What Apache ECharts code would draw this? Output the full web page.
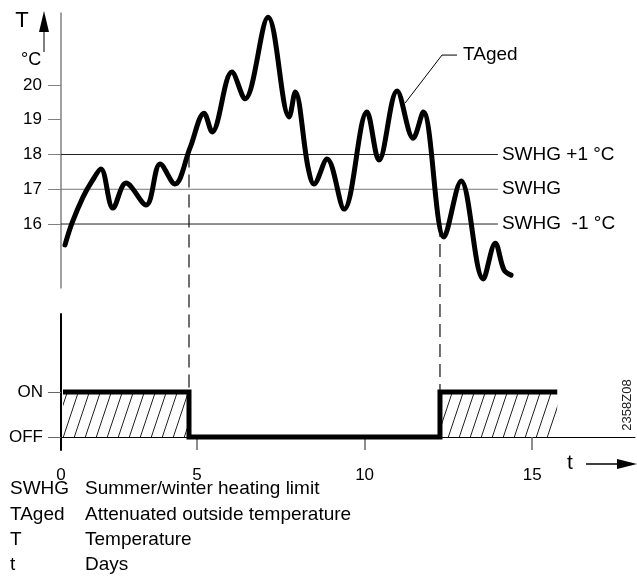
<!DOCTYPE html>
<html>
<head>
<meta charset="utf-8">
<script src="https://cdn.jsdelivr.net/npm/echarts@6/dist/echarts.min.js"></script>
<style>
  html, body { margin: 0; padding: 0; background: #fff; }
  #chart { width: 637px; height: 578px; }
</style>
</head>
<body>
<div id="chart"></div>
<script>
// TAged curve (days, °C)
const curveDays = [1.06, 1.27, 1.60, 1.87, 2.13, 2.49, 2.88, 3.48, 3.90, 4.34, 4.79, 5.21, 5.45, 6.04, 6.43, 7.12, 7.75, 7.93, 8.31, 8.49, 8.88, 9.39, 10.07, 10.43, 10.97, 11.45, 11.75, 12.37, 12.88, 13.54, 13.90, 14.16, 14.37]
const curveTemps = [15.40, 16.03, 16.78, 17.24, 17.58, 16.46, 17.18, 16.55, 17.73, 17.15, 18.19, 19.19, 18.65, 20.37, 19.60, 21.95, 19.08, 19.80, 17.64, 17.15, 17.87, 16.43, 19.22, 17.84, 19.83, 18.47, 19.22, 15.63, 17.24, 14.42, 15.45, 14.68, 14.53]

// heating limit lines
const limitTemps = [18, 17, 16]
const limitLabels = ['SWHG +1 °C', 'SWHG', 'SWHG  -1 °C']
const limitEnd = 13.98

// summer/winter switch (1 = ON, 0 = OFF)
const stateDays = [1.0, 4.76, 4.76, 12.25, 12.25, 15.75]
const stateValues = [1, 1, 0, 0, 1, 1]
const switchOffDay = 4.76
const switchOnDay = 12.25
const stateLabels = ['OFF', 'ON']

// TAged leader line
const leaderDays = [11.21, 12.31, 12.76]
const leaderTemps = [19.48, 20.86, 20.86]

// axes
const tempTicks = [16, 17, 18, 19, 20]
const dayAxisMin = 0.94
const dayAxisMax = 18.07
const dayTicks = [5, 10, 15]
const dayLabels = [dayAxisMin, 5, 10, 15]

const legendKeys = ['SWHG', 'TAged', 'T', 't']
const legendTexts = ['Summer/winter heating limit', 'Attenuated outside temperature', 'Temperature', 'Days']

const FONT = 'Liberation Sans, Arial, sans-serif'

// hatch pattern for the ON areas
const hatch = document.createElement('canvas')
hatch.width = 11
hatch.height = 33
const hctx = hatch.getContext('2d')
hctx.strokeStyle = '#222'
hctx.lineWidth = 1
for (const dx of [-11, 0, 11]) {
  hctx.beginPath()
  hctx.moveTo(dx, 33)
  hctx.lineTo(dx + 11, 0)
  hctx.stroke()
}

const zip = (xs, ys) => xs.map((x, i) => [x, ys[i]])

const limitSeries = limitTemps.map((t, i) => ({
  id: 'limit' + i,
  type: 'line',
  xAxisIndex: 0,
  yAxisIndex: 0,
  data: [[dayAxisMin, t], [limitEnd, t]],
  symbol: 'none',
  z: 1,
  lineStyle: {color: t === 17 ? '#777' : '#222', width: 1},
  endLabel: {show: true, formatter: limitLabels[i], distance: 4, fontSize: 19, fontFamily: FONT, color: '#000'}
}))

const legendGraphics = []
legendKeys.forEach((k, i) => {
  const y = 489 + i * 25.3
  legendGraphics.push({type: 'text', x: 10, y: y, style: {text: k, font: '19px ' + FONT, fill: '#000', verticalAlign: 'middle'}})
  legendGraphics.push({type: 'text', x: 85, y: y, style: {text: legendTexts[i], font: '19px ' + FONT, fill: '#000', verticalAlign: 'middle'}})
})

const option = {
  animation: false,
  backgroundColor: '#fff',
  grid: [
    {left: 61, top: 13, width: 574, height: 275},
    {left: 61, top: 314, width: 574, height: 136}
  ],
  xAxis: [
    {gridIndex: 0, type: 'value', min: dayAxisMin, max: dayAxisMax, show: false},
    {
      gridIndex: 1, type: 'value', min: dayAxisMin, max: dayAxisMax,
      axisLine: {onZero: true, lineStyle: {color: '#000', width: 1}},
      axisTick: {show: true, length: 13, customValues: dayTicks, lineStyle: {color: '#666', width: 1.5}},
      axisLabel: {customValues: dayLabels, margin: 17, fontSize: 17, fontFamily: FONT, color: '#000',
        formatter: v => v < 1 ? '0' : String(v)},
      splitLine: {show: false}
    }
  ],
  yAxis: [
    {
      gridIndex: 0, type: 'value', min: 14.16, max: 22.07,
      axisLine: {show: true, onZero: false, lineStyle: {color: '#808080', width: 1.5}},
      axisTick: {show: true, length: 13, customValues: tempTicks, lineStyle: {color: '#808080', width: 1}},
      axisLabel: {customValues: tempTicks, margin: 19, fontSize: 17, fontFamily: FONT, color: '#000'},
      splitLine: {show: false}
    },
    {
      gridIndex: 1, type: 'value', min: -0.289, max: 2.733,
      axisLine: {show: true, onZero: false, lineStyle: {color: '#000', width: 2}},
      axisTick: {show: true, length: 13, customValues: [0, 1], lineStyle: {color: '#666', width: 1}},
      axisLabel: {customValues: [0, 1], margin: 18, fontSize: 17, fontFamily: FONT, color: '#000',
        formatter: v => stateLabels[v]},
      splitLine: {show: false}
    }
  ],
  series: [
    ...limitSeries,
    {
      id: 'guideOff', type: 'line', xAxisIndex: 0, yAxisIndex: 0, clip: false, symbol: 'none', z: 1,
      data: [], lineStyle: {color: '#111', width: 1.2, type: [13, 7]}
    },
    {
      id: 'guideOn', type: 'line', xAxisIndex: 0, yAxisIndex: 0, clip: false, symbol: 'none', z: 1,
      data: [], lineStyle: {color: '#111', width: 1.2, type: [13, 7]}
    },
    {
      id: 'taged', type: 'line', xAxisIndex: 0, yAxisIndex: 0, clip: false,
      data: zip(curveDays, curveTemps),
      smooth: 0.35, symbol: 'none', z: 3,
      lineStyle: {color: '#000', width: 5, cap: 'round', join: 'round'}
    },
    {
      id: 'leader', type: 'line', xAxisIndex: 0, yAxisIndex: 0,
      data: zip(leaderDays, leaderTemps), symbol: 'none', z: 2,
      lineStyle: {color: '#000', width: 1},
      endLabel: {show: true, formatter: 'TAged', distance: 6, fontSize: 19, fontFamily: FONT, color: '#000'}
    },
    {
      id: 'state', type: 'line', xAxisIndex: 1, yAxisIndex: 1,
      data: zip(stateDays, stateValues), symbol: 'none', z: 3,
      lineStyle: {color: '#000', width: 5, join: 'miter'},
      areaStyle: {color: {image: hatch, repeat: 'repeat'}, opacity: 1}
    }
  ],
  graphic: [
    {type: 'text', x: 22, y: 21, style: {text: 'T', font: '22px ' + FONT, fill: '#000', align: 'center', verticalAlign: 'middle'}},
    {type: 'polygon', shape: {points: [[44, 11], [39, 32], [49, 32]]}, style: {fill: '#000'}},
    {type: 'line', shape: {x1: 44, y1: 31, x2: 44, y2: 52}, style: {stroke: '#000', lineWidth: 1}},
    {type: 'text', x: 21, y: 60, style: {text: '°C', font: '18px ' + FONT, fill: '#000', verticalAlign: 'middle'}},
    {type: 'text', x: 570, y: 463, style: {text: 't', font: '21px ' + FONT, fill: '#000', align: 'center', verticalAlign: 'middle'}},
    {type: 'line', shape: {x1: 586, y1: 464, x2: 620, y2: 464}, style: {stroke: '#000', lineWidth: 1.5}},
    {type: 'polygon', shape: {points: [[637, 464], [617, 459], [617, 469]]}, style: {fill: '#000'}},
    {type: 'text', x: 627, y: 405, rotation: Math.PI / 2,
      style: {text: '2358Z08', font: '13px ' + FONT, fill: '#222', align: 'center', verticalAlign: 'middle'}},
    ...legendGraphics
  ]
}

const chart = echarts.init(document.getElementById('chart'))
chart.setOption(option)

// dashed guides run from the switching temperature down to the ON level of the lower plot
const onPx = chart.convertToPixel({yAxisIndex: 1}, 1)
const tempAtOn = chart.convertFromPixel({yAxisIndex: 0}, onPx)
chart.setOption({
  series: [
    {id: 'guideOff', data: [[switchOffDay, limitTemps[0]], [switchOffDay, tempAtOn]]},
    {id: 'guideOn', data: [[switchOnDay, limitTemps[2]], [switchOnDay, tempAtOn]]}
  ]
})
</script>
</body>
</html>
